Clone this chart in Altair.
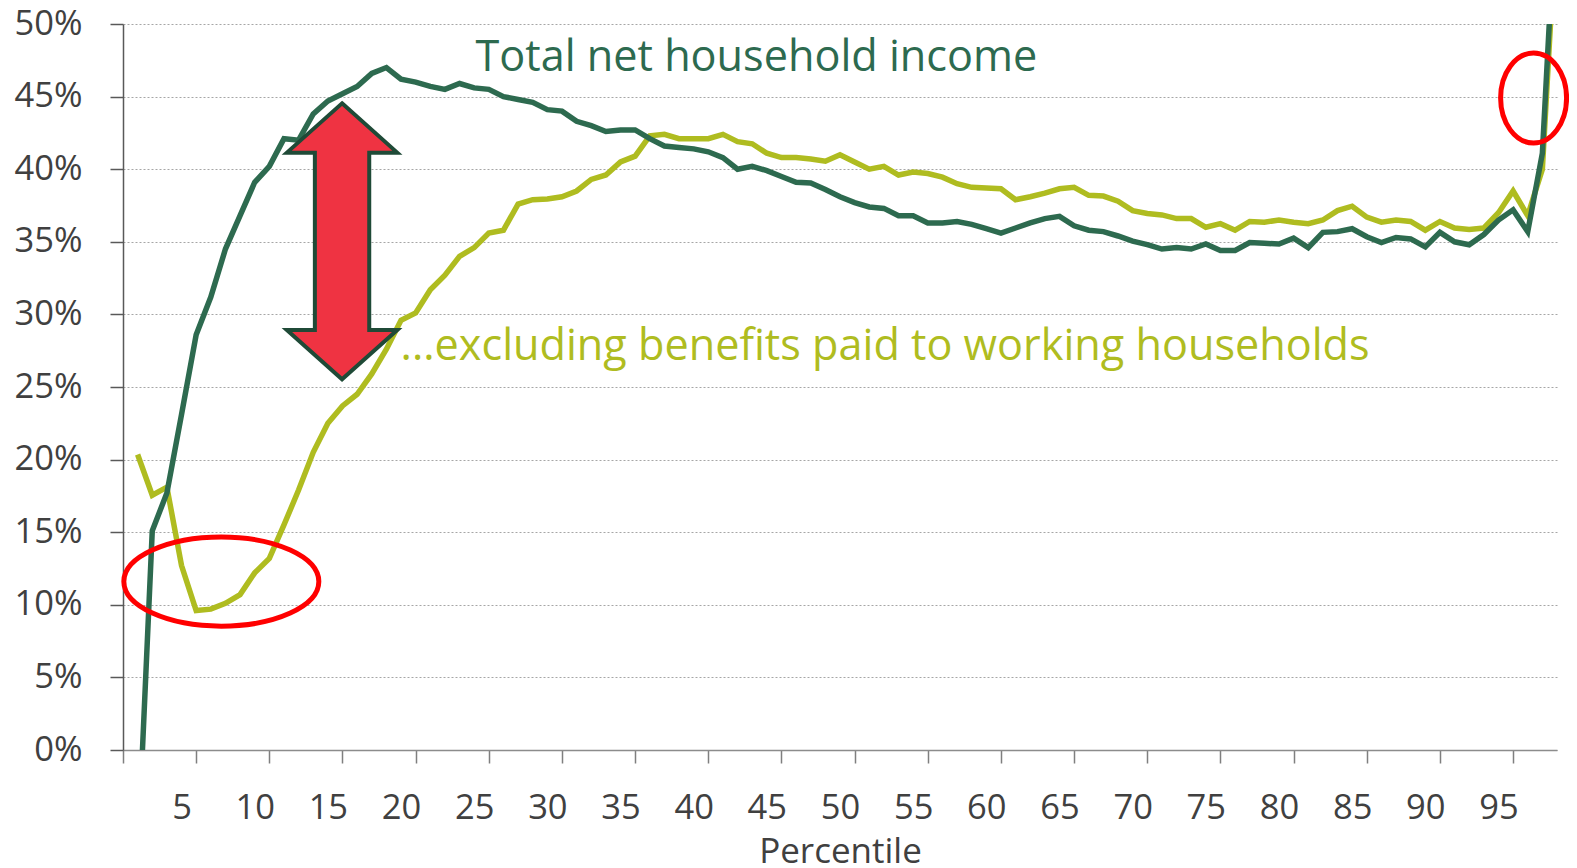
import altair as alt
import pandas as pd

# ---------------- data ----------------
percentile = list(range(1, 99))

total_net = [
    -7.4, 15.1, 17.7, 23.1, 28.6, 31.2, 34.5, 36.8, 39.1, 40.2,
    42.1, 42.0, 43.8, 44.7, 45.2, 45.7, 46.6, 47.0, 46.2, 46.0,
    45.7, 45.5, 45.9, 45.6, 45.5, 45.0, 44.8, 44.6, 44.1, 44.0,
    43.3, 43.0, 42.6, 42.7, 42.7, 42.1, 41.6, 41.5, 41.4, 41.2,
    40.8, 40.0, 40.2, 39.9, 39.5, 39.1, 39.05, 38.6, 38.1, 37.7,
    37.4, 37.3, 36.8, 36.8, 36.3, 36.3, 36.4, 36.2, 35.9, 35.6,
    35.95, 36.3, 36.6, 36.75, 36.1, 35.8, 35.7, 35.4, 35.05, 34.8,
    34.5, 34.6, 34.5, 34.85, 34.4, 34.4, 34.95, 34.9, 34.85, 35.25,
    34.6, 35.65, 35.7, 35.9, 35.35, 34.95, 35.3, 35.2, 34.65, 35.65,
    35.0, 34.8, 35.5, 36.5, 37.2, 35.7, 41.1, 60.0,
]

excl_benefits = [
    20.35, 17.55, 18.1, 12.7, 9.6, 9.7, 10.1, 10.7, 12.2, 13.2,
    15.5, 17.9, 20.5, 22.5, 23.7, 24.5, 25.9, 27.6, 29.6, 30.1,
    31.7, 32.7, 34.0, 34.6, 35.6, 35.8, 37.6, 37.9, 37.95, 38.1,
    38.5, 39.3, 39.6, 40.5, 40.9, 42.3, 42.4, 42.1, 42.1, 42.1,
    42.4, 41.9, 41.75, 41.1, 40.8, 40.8, 40.7, 40.55, 41.0, 40.5,
    40.0, 40.2, 39.6, 39.8, 39.7, 39.45, 39.0, 38.75, 38.7, 38.65,
    37.9, 38.1, 38.35, 38.65, 38.75, 38.2, 38.15, 37.8, 37.15, 36.95,
    36.85, 36.6, 36.6, 36.0, 36.25, 35.8, 36.4, 36.35, 36.5, 36.35,
    36.25, 36.5, 37.15, 37.45, 36.7, 36.35, 36.5, 36.4, 35.8, 36.4,
    35.95, 35.85, 35.95, 37.0, 38.5, 36.8, 40.0, 58.0,
]

series_labels = [
    "Total net household income",
    "...excluding benefits paid to working households",
]
x_tick_values = list(range(0, 96, 5))
y_tick_values = list(range(0, 51, 5))
x_title = "Percentile"

# ---------------- styles ----------------
DARK = "#2d6a4f"
LIGHT = "#afbc20"
RED = "#ff0000"
ARROW_FILL = "#ef3342"
ARROW_STROKE = "#1f4a37"
TXT = "#404040"
FONT = "Open Sans"


def ellipse_path(rx, ry):
    k = 0.5523
    return (
        f"M {rx} 0 C {rx} {k*ry} {k*rx} {ry} 0 {ry} "
        f"C {-k*rx} {ry} {-rx} {k*ry} {-rx} 0 "
        f"C {-rx} {-k*ry} {-k*rx} {-ry} 0 {-ry} "
        f"C {k*rx} {-ry} {rx} {-k*ry} {rx} 0 Z"
    )


ARROW_PATH = (
    "M 0 -1 L 0.40 -0.643 L 0.197 -0.643 L 0.197 0.643 L 0.40 0.643 "
    "L 0 1 L -0.40 0.643 L -0.197 0.643 L -0.197 -0.643 L -0.40 -0.643 Z"
)

df_total = pd.DataFrame({"percentile": percentile, "value": total_net})
df_excl = pd.DataFrame({"percentile": percentile, "value": excl_benefits})

x_scale = alt.Scale(domain=[0, 98], nice=False, zero=False)
y_scale = alt.Scale(domain=[0, 50], nice=False, zero=False)

x_axis = alt.Axis(
    values=x_tick_values,
    labelExpr="datum.value == 0 ? '' : datum.label",
    labelOffset=-14.63,
    labelFlush=False,
    labelOverlap=False,
    labelFont=FONT,
    labelFontSize=34.5,
    labelColor=TXT,
    labelBaseline="alphabetic",
    labelPadding=55,
    tickSize=13,
    tickColor="#7f7f7f",
    tickWidth=1.5,
    domainColor="#8c8c8c",
    domainWidth=1.5,
    grid=False,
    title=x_title,
    titleFont=FONT,
    titleFontSize=35,
    titleFontWeight="normal",
    titleColor=TXT,
    titleX=717,
    titleY=112,
    titleBaseline="alphabetic",
    titleAlign="center",
)

y_axis = alt.Axis(
    values=y_tick_values,
    labelExpr="datum.value + '%'",
    labelFont=FONT,
    labelFontSize=34.5,
    labelColor=TXT,
    labelPadding=28,
    tickSize=13,
    tickColor="#595959",
    tickWidth=1.5,
    domainColor="#595959",
    domainWidth=1.5,
    grid=True,
    gridColor="#a6a6a6",
    gridDash=[2, 2],
    gridWidth=1,
    title=None,
)

light_line = alt.Chart(df_excl).mark_line(
    color=LIGHT, strokeWidth=5.5, clip=True
).encode(
    x=alt.X("percentile:Q", scale=x_scale, axis=x_axis),
    y=alt.Y("value:Q", scale=y_scale, axis=y_axis),
)

dark_line = alt.Chart(df_total).mark_line(
    color=DARK, strokeWidth=5.5, clip=True
).encode(
    x=alt.X("percentile:Q", scale=x_scale),
    y=alt.Y("value:Q", scale=y_scale),
)

anno = pd.DataFrame({"a": [0]})

ellipse_left = alt.Chart(anno).mark_point(
    shape=ellipse_path(1, 0.457), size=195 ** 2, filled=False,
    stroke=RED, strokeWidth=5, opacity=1
).encode(x=alt.datum(6.72), y=alt.datum(11.6))

ellipse_right = alt.Chart(anno).mark_point(
    shape=ellipse_path(0.733, 1), size=90 ** 2, filled=False,
    stroke=RED, strokeWidth=5, opacity=1
).encode(x=alt.datum(96.4), y=alt.datum(44.9))

arrow = alt.Chart(anno).mark_point(
    shape=ARROW_PATH, size=276 ** 2, filled=True,
    fill=ARROW_FILL, stroke=ARROW_STROKE, strokeWidth=4,
    strokeJoin="miter", opacity=1
).encode(x=alt.datum(14.97), y=alt.datum(35.03))

text_total = alt.Chart(pd.DataFrame({"label": [series_labels[0]]})).mark_text(
    align="left", baseline="alphabetic", font=FONT, fontSize=43.2, color=DARK
).encode(x=alt.datum(24.09), y=alt.datum(46.73), text="label:N")

text_excl = alt.Chart(pd.DataFrame({"label": [series_labels[1]]})).mark_text(
    align="left", baseline="alphabetic", font=FONT, fontSize=43.2, color=LIGHT
).encode(x=alt.datum(18.97), y=alt.datum(26.89), text="label:N")

chart = alt.layer(
    light_line, dark_line, ellipse_left, ellipse_right, arrow, text_total, text_excl
).properties(
    width=1434,
    height=726,
    padding={"left": 115, "top": 16, "right": 12, "bottom": 116},
    autosize=alt.AutoSizeParams(type="none"),
).configure_view(strokeWidth=0)

chart.save("out.html", embed_options={"renderer": "svg", "actions": False})
